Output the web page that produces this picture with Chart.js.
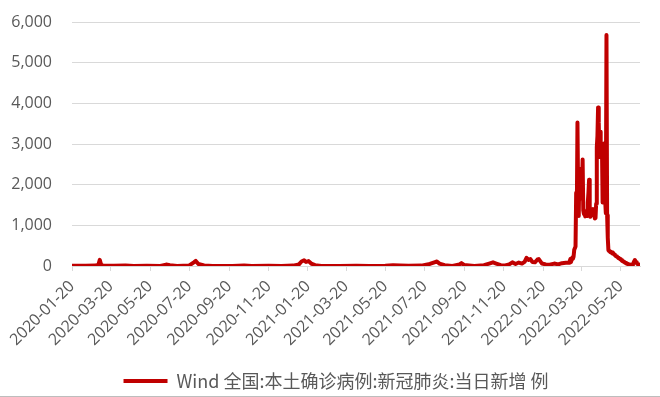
<!DOCTYPE html>
<html>
<head>
<meta charset="utf-8">
<script src="https://cdn.jsdelivr.net/npm/chart.js@4.4.1/dist/chart.umd.min.js"></script>
<style>
  html, body { margin: 0; padding: 0; background: #fff; }
  #wrap { position: relative; width: 660px; height: 396px; border-bottom: 1px solid #bdbdbd; }
</style>
</head>
<body>
<div id="wrap"><canvas id="c"></canvas></div>
<script>
// 全国本土确诊病例（当日新增），2020-01-20 起
const seriesName = 'Wind 全国:本土确诊病例:新冠肺炎:当日新增 例';

// 2020-01 ~ 2022-02：较平稳阶段
const earlyDates = [
  '2020-01-20','2020-02-10','2020-02-26','2020-03-01','2020-03-03','2020-03-05','2020-03-08',
  '2020-03-25','2020-04-12','2020-04-25','2020-05-15','2020-06-05','2020-06-14','2020-06-20',
  '2020-07-01','2020-07-20','2020-07-27','2020-07-30','2020-08-03','2020-08-12','2020-08-25',
  '2020-09-25','2020-10-13','2020-10-25','2020-11-20','2020-12-10','2020-12-28',
  '2021-01-06','2021-01-10','2021-01-14','2021-01-17','2021-01-21','2021-01-25','2021-01-31',
  '2021-02-10','2021-03-10','2021-04-05','2021-04-25','2021-05-20','2021-06-01','2021-06-12',
  '2021-06-25','2021-07-15','2021-07-28','2021-08-04','2021-08-08','2021-08-12','2021-08-20',
  '2021-09-01','2021-09-12','2021-09-15','2021-09-19','2021-10-05','2021-10-20','2021-10-28',
  '2021-11-03','2021-11-08','2021-11-15','2021-11-22','2021-11-28','2021-12-03','2021-12-08',
  '2021-12-13','2021-12-18','2021-12-22','2021-12-25','2021-12-28','2021-12-31',
  '2022-01-03','2022-01-07','2022-01-11','2022-01-13','2022-01-18','2022-01-24','2022-01-30',
  '2022-02-06','2022-02-12','2022-02-18','2022-02-24'
];
const earlyCases = [
  5, 5, 10, 30, 150, 40, 10,
  5, 15, 3, 5, 1, 35, 20,
  3, 15, 90, 125, 50, 15, 1,
  2, 10, 3, 5, 3, 10,
  40, 110, 140, 100, 120, 60, 20,
  3, 1, 8, 2, 5, 20, 12,
  5, 10, 50, 90, 110, 60, 20,
  3, 40, 70, 25, 3, 20, 60,
  90, 60, 20, 15, 40, 90, 50,
  85, 60, 100, 200, 150, 170,
  100, 90, 160, 170, 60, 40, 30,
  60, 40, 70, 80
];

// 2022-03-01 起逐日数据
const dailyStart = '2022-03-01';
const marchCases = [
  80, 120, 170, 100, 100, 210, 180, 230, 400, 400, 480, 1800, 1340, 3530, 1860, 1230,
  2390, 1660, 2160, 2030, 1950, 2620, 1370, 1280, 1300, 1220, 1220, 1240, 1230, 1560, 1790
];
const aprilCases = [
  2120, 1460, 1210, 1240, 1320, 1380, 1400, 1320, 1320, 1170, 1180, 1530, 2920, 3200, 3900,
  3530, 2680, 3300, 2700, 2840, 2950, 1560, 2200, 3010, 1700, 1600, 1300, 5680, 1250, 700
];
const mayCases = [
  390, 370, 360, 340, 350, 330, 310, 330, 300, 280, 270, 250, 240, 230, 220, 200,
  190, 180, 170, 160, 150, 130, 120, 110, 100, 90, 80, 70, 60, 55, 50
];
const juneCases = [
  40, 35, 30, 30, 25, 20, 25, 40, 80, 120, 150, 120, 90, 70, 50, 40, 30, 25, 20
];

// 横轴刻度标签
const tickDates = [
  '2020-01-20','2020-03-20','2020-05-20','2020-07-20','2020-09-20','2020-11-20',
  '2021-01-20','2021-03-20','2021-05-20','2021-07-20','2021-09-20','2021-11-20',
  '2022-01-20','2022-03-20','2022-05-20'
];
// 纵轴刻度
const yMin = 0, yMax = 6000, yStep = 1000;

const DAY = 86400000;
const t0 = Date.UTC(2020, 0, 20);
function dayOf(s) {
  const [y, m, d] = s.split('-').map(Number);
  return Math.round((Date.UTC(y, m - 1, d) - t0) / DAY);
}
function dateOf(n) {
  const dt = new Date(t0 + n * DAY);
  const p = v => String(v).padStart(2, '0');
  return dt.getUTCFullYear() + '-' + p(dt.getUTCMonth() + 1) + '-' + p(dt.getUTCDate());
}

const points = earlyDates.map((d, i) => ({ x: dayOf(d), y: earlyCases[i] }));
const dailyCases = marchCases.concat(aprilCases, mayCases, juneCases);
const d0 = dayOf(dailyStart);
dailyCases.forEach((v, i) => points.push({ x: d0 + i, y: v }));
const lastDay = points[points.length - 1].x;

const red = '#C00000';
const grey = '#595959';
const gridGrey = '#d9d9d9';

// 图例整体略向右下移动
const legendNudge = {
  id: 'legendNudge',
  afterLayout(chart) {
    const lg = chart.legend;
    if (!lg) return;
    lg.left += 16; lg.right += 16;
    lg.top += 4; lg.bottom += 4;
  }
};

new Chart(document.getElementById('c'), {
  type: 'line',
  data: {
    datasets: [{
      label: seriesName,
      data: points,
      borderColor: red,
      backgroundColor: red,
      borderWidth: 4,
      pointRadius: 0,
      tension: 0,
      borderJoinStyle: 'round',
      borderCapStyle: 'round',
      fill: false
    }]
  },
  plugins: [legendNudge],
  options: {
    responsive: true,
    maintainAspectRatio: false,
    animation: false,
    layout: { padding: { left: 0, right: 20, top: 22, bottom: 0 } },
    plugins: {
      tooltip: { enabled: false },
      legend: {
        position: 'bottom',
        labels: {
          boxWidth: 44,
          boxHeight: 4,
          padding: 8,
          color: grey,
          font: { family: '"Noto Sans CJK SC", "Noto Sans", sans-serif', size: 18 },
          generateLabels: () => [{
            text: seriesName,
            fillStyle: red,
            strokeStyle: red,
            lineWidth: 0,
            fontColor: grey,
            datasetIndex: 0
          }]
        }
      }
    },
    scales: {
      x: {
        type: 'linear',
        min: 0,
        max: lastDay,
        afterBuildTicks: s => { s.ticks = tickDates.map(d => ({ value: dayOf(d) })); },
        afterFit: s => { s.height = 94; },
        ticks: {
          autoSkip: false,
          minRotation: 45,
          maxRotation: 45,
          padding: 6,
          color: grey,
          font: { family: '"Open Sans", sans-serif', size: 16 },
          callback: v => dateOf(v)
        },
        grid: { display: true, drawOnChartArea: false, drawTicks: true, tickLength: 5, color: gridGrey },
        border: { display: true, color: gridGrey }
      },
      y: {
        min: yMin,
        max: yMax,
        afterFit: s => { s.width = 72; },
        ticks: {
          stepSize: yStep,
          padding: 4,
          color: grey,
          font: { family: '"Open Sans", sans-serif', size: 16 },
          callback: v => Number(v).toLocaleString('en-US')
        },
        grid: { color: gridGrey, drawTicks: true, tickLength: 16, tickColor: 'rgba(0,0,0,0)' },
        border: { display: false }
      }
    }
  }
});
</script>
</body>
</html>
